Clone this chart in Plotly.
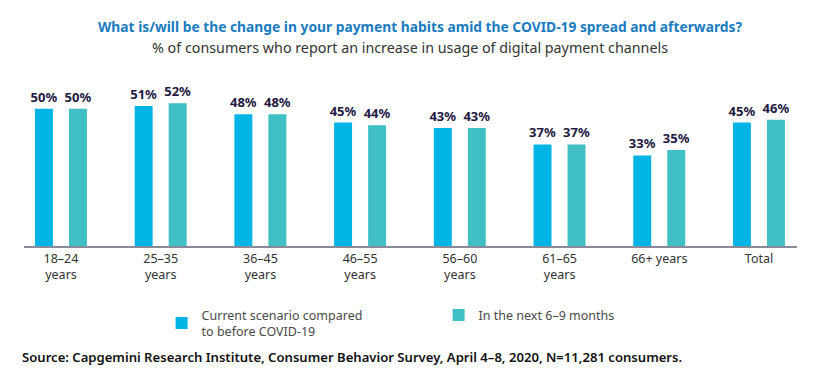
import plotly.graph_objects as go

categories = ["18–24<br>years", "25–35<br>years", "36–45<br>years", "46–55<br>years",
              "56–60<br>years", "61–65<br>years", "66+ years", "Total"]
current = [50, 51, 48, 45, 43, 37, 33, 45]
next_months = [50, 52, 48, 44, 43, 37, 35, 46]

series_names = ["Current scenario compared<br>to before COVID-19", "In the next 6–9 months"]
colors = ["#00B5E5", "#40BFC4"]

FONT = "Noto Sans"
x = list(range(len(categories)))

fig = go.Figure()
for vals, name, col, off in [(current, series_names[0], colors[0], -0.261),
                             (next_months, series_names[1], colors[1], 0.080)]:
    fig.add_trace(go.Bar(
        x=x, y=vals, name=name,
        marker=dict(color=col, line=dict(width=0)),
        width=0.18, offset=off,
        text=[f"{v}%" for v in vals], textposition="outside",
        constraintext="none",
        textfont=dict(family=FONT, size=13, color="#231942", weight="bold"),
        cliponaxis=False,
    ))

fig.update_layout(
    width=828, height=374,
    margin=dict(l=24, r=31, t=66, b=128, autoexpand=False),
    paper_bgcolor="white", plot_bgcolor="white",
    barmode="group",
    font=dict(family=FONT, size=12, color="#333333"),
    showlegend=True,
    legend=dict(orientation="h", x=0.178, xanchor="left", y=-0.302, yanchor="top",
                font=dict(family=FONT, size=12.5, color="#4A4A4A"),
                entrywidth=232, entrywidthmode="pixels", itemsizing="constant",
                tracegroupgap=0),
    xaxis=dict(range=[-0.371, 7.381], tickmode="array", tickvals=x, ticktext=categories,
               showgrid=False, zeroline=False, showline=True, linecolor="#8A8A9A",
               linewidth=1.5, ticks="", tickfont=dict(family=FONT, size=12.5, color="#333333"),
               fixedrange=True),
    yaxis=dict(range=[0, 65.6], visible=False, fixedrange=True),
    annotations=[
        dict(text="<b>What is/will be the change in your payment habits amid the COVID-19 spread and afterwards?</b>",
             xref="paper", yref="paper", x=(420 - 24) / 773, y=1 + (66 - 27) / 180,
             xanchor="center", yanchor="middle", showarrow=False,
             font=dict(family=FONT, size=13.8, color="#1A7BBF")),
        dict(text="% of consumers who report an increase in usage of digital payment channels",
             xref="paper", yref="paper", x=(410 - 24) / 773, y=1 + (66 - 48) / 180,
             xanchor="center", yanchor="middle", showarrow=False,
             font=dict(family=FONT, size=14.3, color="#333333")),
        dict(text="Source: Capgemini Research Institute, Consumer Behavior Survey, April 4–8, 2020, N=11,281 consumers.",
             xref="paper", yref="paper", x=(20 - 24) / 773, y=-(357 - 246) / 180,
             xanchor="left", yanchor="middle", showarrow=False,
             font=dict(family=FONT, size=13.1, color="#111111", weight=600)),
    ],
)

fig.write_html("out.html", config={"displayModeBar": False},
               post_script="document.body.style.margin='0';")
